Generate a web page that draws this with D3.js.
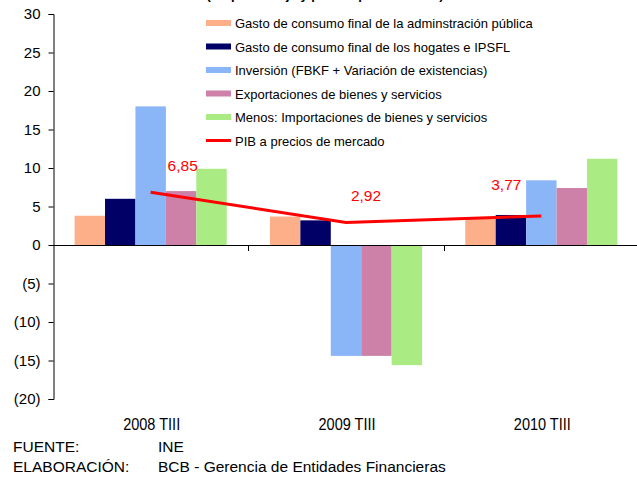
<!DOCTYPE html>
<html>
<head>
<meta charset="utf-8">
<script src="https://cdn.jsdelivr.net/npm/d3@7"></script>
<style>
  body { margin: 0; background: #fff; }
  svg { display: block; font-family: Arial, "Liberation Sans", sans-serif; }
</style>
</head>
<body>
<div id="chart"></div>
<script>
// Datos (incidencias, en porcentaje)
const periodos = ["2008 TIII", "2009 TIII", "2010 TIII"];
const series = [
    "Gasto de consumo final de la adminstración pública",
    "Gasto de consumo final de los hogates e IPSFL",
    "Inversión (FBKF + Variación de existencias)",
    "Exportaciones de bienes y servicios",
    "Menos: Importaciones de bienes y servicios"
];
const gastoPublico = [3.8, 3.7, 3.6];
const gastoHogares = [6.0, 3.2, 3.9];
const inversion = [18.0, -14.4, 8.4];
const exportaciones = [7.0, -14.4, 7.4];
const importaciones = [9.9, -15.6, 11.2];
const pib = [6.85, 2.92, 3.77];
const pibEtiquetas = ["6,85", "2,92", "3,77"];
const nombrePib = "PIB a precios de mercado";
const yTicks = [30, 25, 20, 15, 10, 5, 0, -5, -10, -15, -20];
const colores = ["#fdaf8a", "#000066", "#8ab5f7", "#cd80a8", "#abeb83"];

function drawChart() {
    const width = 637;
    const height = 477;
    const valores = [gastoPublico, gastoHogares, inversion, exportaciones, importaciones];

    const svg = d3.select("#chart").append("svg")
        .attr("width", width)
        .attr("height", height);

    const x = d3.scaleBand().domain(periodos).range([53, 639]);
    const xInner = d3.scaleBand().domain(d3.range(series.length))
        .range([0, x.bandwidth()]).paddingOuter(0.71);
    const y = d3.scaleLinear().domain([-20, 30]).range([399, 14]);

    // título (cortado en la parte superior de la imagen)
    svg.append("text")
        .attr("x", 325).attr("y", -1)
        .attr("text-anchor", "middle")
        .attr("font-size", 13).attr("font-weight", "bold")
        .text("(En porcentaje y puntos porcentuales)");

    // barras
    const grupos = svg.append("g").selectAll("g")
        .data(periodos)
        .enter().append("g")
        .attr("transform", d => `translate(${x(d)},0)`);

    grupos.selectAll("rect")
        .data((p, i) => valores.map((s, k) => ({ k: k, v: s[i] })))
        .enter().append("rect")
        .attr("x", d => xInner(d.k))
        .attr("width", xInner.bandwidth())
        .attr("y", d => y(Math.max(0, d.v)))
        .attr("height", d => Math.abs(y(d.v) - y(0)))
        .attr("fill", d => colores[d.k]);

    // eje Y
    const yAxis = d3.axisLeft(y)
        .tickValues(yTicks)
        .tickSize(5)
        .tickFormat(d => d < 0 ? `(${-d})` : d);

    const gy = svg.append("g")
        .attr("transform", "translate(53.5,0)")
        .call(yAxis);
    gy.select(".domain").attr("stroke", "#000");
    gy.selectAll(".tick line").attr("stroke", "#000");
    gy.selectAll(".tick text")
        .attr("x", -13)
        .attr("font-size", 15)
        .attr("font-family", "Arial, 'Liberation Sans', sans-serif")
        .attr("fill", "#000");

    // línea de cero y marcas de categoría
    svg.append("line")
        .attr("x1", 53).attr("x2", 639)
        .attr("y1", Math.round(y(0)) + 0.5).attr("y2", Math.round(y(0)) + 0.5)
        .attr("stroke", "#000");

    svg.append("g").selectAll("line")
        .data(periodos.slice(1))
        .enter().append("line")
        .attr("x1", d => Math.round(x(d)) + 0.5)
        .attr("x2", d => Math.round(x(d)) + 0.5)
        .attr("y1", Math.round(y(0)))
        .attr("y2", Math.round(y(0)) + 6)
        .attr("stroke", "#000");

    // etiquetas del eje X
    svg.append("g").selectAll("text")
        .data(periodos)
        .enter().append("text")
        .attr("x", d => x(d) + x.bandwidth() / 2 + 1)
        .attr("y", 430)
        .attr("text-anchor", "middle")
        .attr("font-size", 16)
        .attr("textLength", 57)
        .attr("lengthAdjust", "spacingAndGlyphs")
        .text(d => d);

    // línea del PIB
    const line = d3.line()
        .x((d, i) => x(periodos[i]) + x.bandwidth() / 2)
        .y(d => y(d));

    svg.append("path")
        .datum(pib)
        .attr("fill", "none")
        .attr("stroke", "#ff0000")
        .attr("stroke-width", 3)
        .attr("d", line);

    // etiquetas del PIB (desplazadas a mano, como en el original)
    const nudge = [[32, -21], [20, -22], [-35, -26]];
    svg.append("g").selectAll("text")
        .data(pib)
        .enter().append("text")
        .attr("x", (d, i) => x(periodos[i]) + x.bandwidth() / 2 + nudge[i][0])
        .attr("y", (d, i) => y(d) + nudge[i][1])
        .attr("text-anchor", "middle")
        .attr("font-size", 15.5)
        .attr("fill", "#ff0000")
        .text((d, i) => pibEtiquetas[i]);

    // leyenda
    const legend = svg.append("g").attr("transform", "translate(206,0)");
    const rowY = i => 23 + i * 23.5;

    series.forEach((s, i) => {
        legend.append("rect")
            .attr("x", 0).attr("y", rowY(i) - 3)
            .attr("width", 25).attr("height", 6)
            .attr("fill", colores[i]);
        legend.append("text")
            .attr("x", 29).attr("y", rowY(i) + 5)
            .attr("font-size", 13)
            .text(s);
    });

    legend.append("line")
        .attr("x1", 0).attr("x2", 25)
        .attr("y1", rowY(5)).attr("y2", rowY(5))
        .attr("stroke", "#ff0000")
        .attr("stroke-width", 3);
    legend.append("text")
        .attr("x", 29).attr("y", rowY(5) + 5)
        .attr("font-size", 13)
        .text(nombrePib);

    // fuente
    const notas = [["FUENTE:", "INE"], ["ELABORACIÓN:", "BCB - Gerencia de Entidades Financieras"]];
    notas.forEach((n, i) => {
        svg.append("text")
            .attr("x", 13).attr("y", 451.5 + i * 20)
            .attr("font-size", 15.5)
            .text(n[0]);
        svg.append("text")
            .attr("x", 158).attr("y", 451.5 + i * 20)
            .attr("font-size", 15.5)
            .text(n[1]);
    });
}

drawChart();
</script>
</body>
</html>
